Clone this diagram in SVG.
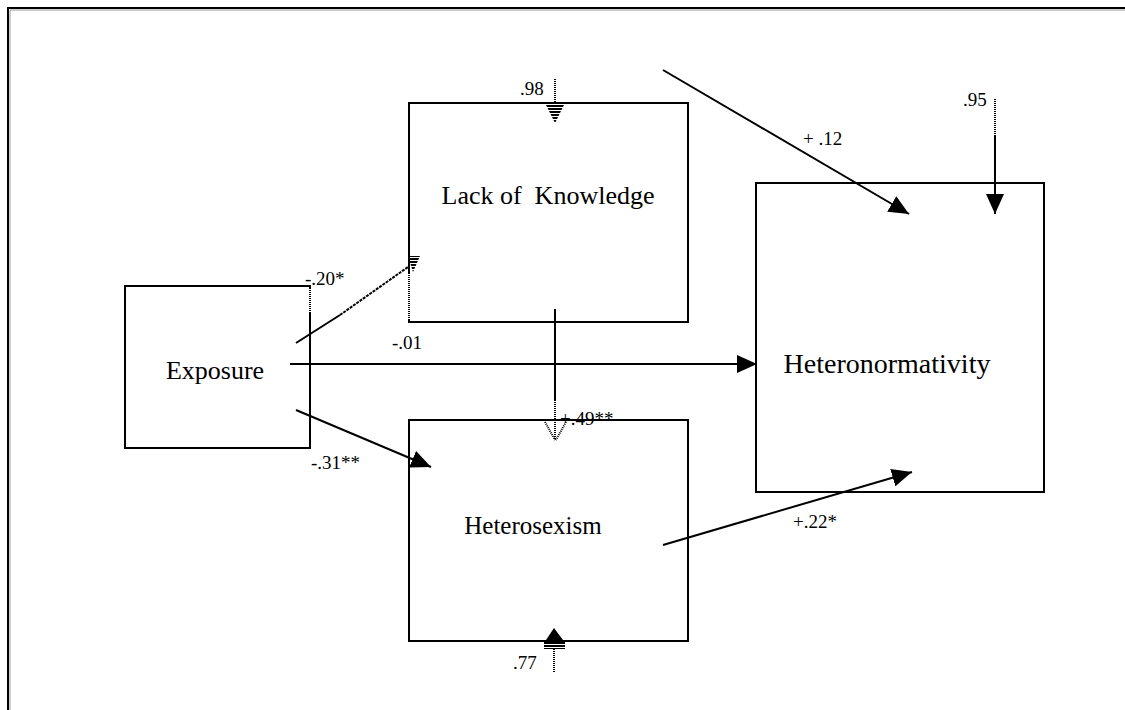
<svg xmlns="http://www.w3.org/2000/svg" width="1125" height="710" viewBox="0 0 1125 710">
<style>
.box{fill:none;stroke:#000;stroke-width:2}
.ln{fill:none;stroke:#000;stroke-width:2}
.dot{fill:none;stroke:#000;stroke-width:2;stroke-dasharray:1 1}
.dash{fill:none;stroke:#000;stroke-width:2;stroke-dasharray:3 1}
.erase{stroke:#fff;stroke-width:3}
.node{font-family:"Liberation Serif","Times New Roman",serif;font-size:26px;fill:#000;text-anchor:middle}
.lbl{font-family:"Liberation Serif","Times New Roman",serif;font-size:19px;fill:#000}
</style>
<defs>
<marker id="ah" viewBox="0 0 20 18" refX="20" refY="9" markerWidth="20" markerHeight="18" markerUnits="userSpaceOnUse" orient="auto">
<path d="M0,0 L20,9 L0,18 z" fill="#000"/>
</marker>
<pattern id="stripes" patternUnits="userSpaceOnUse" width="6" height="3">
<rect x="0" y="0" width="6" height="2" fill="#000"/>
</pattern>
</defs>
<rect width="1125" height="710" fill="#fff"/>
<path d="M8,710 V8 H1125" fill="none" stroke="#000" stroke-width="2"/>
<path d="M10,710 V10 H1125" fill="none" stroke="#999" stroke-width="1"/>

<g id="lack-of-knowledge">
<rect class="box" x="409" y="103" width="279" height="219"/>
<line class="erase" x1="409" y1="273" x2="409" y2="320"/>
<line class="dot" x1="409" y1="273" x2="409" y2="320"/>
<text class="node" x="548" y="204">Lack of&#160; Knowledge</text>
</g>
<g id="exposure">
<rect class="box" x="125" y="286" width="185" height="162"/>
<line class="erase" x1="310" y1="288" x2="310" y2="313"/>
<line class="dot" x1="310" y1="288" x2="310" y2="313"/>
<text class="node" x="215" y="379">Exposure</text>
</g>
<g id="heterosexism">
<rect class="box" x="409" y="420" width="279" height="221"/>
<text class="node" x="533" y="534" style="font-size:25px">Heterosexism</text>
</g>
<g id="heteronormativity">
<rect class="box" x="756" y="183" width="288" height="309"/>
<text class="node" x="887" y="373" style="font-size:28px">Heteronormativity</text>
</g>

<g id="connectors">
<!-- .98 disturbance into Lack of Knowledge -->
<line class="dot" x1="555" y1="79" x2="555" y2="103"/>
<polygon points="545,103 565,103 555,123" fill="url(#stripes)"/>
<!-- Exposure -> Lack of Knowledge -->
<line class="ln" x1="296" y1="343" x2="340" y2="315"/>
<line class="dash" x1="340" y1="315" x2="408" y2="267"/>
<polygon points="408,256 420,256 413,272" fill="url(#stripes)"/>
<!-- Exposure -> Heteronormativity -->
<line class="ln" x1="290" y1="364" x2="757" y2="364" marker-end="url(#ah)"/>
<!-- Exposure -> Heterosexism -->
<line class="ln" x1="296" y1="410" x2="431" y2="467" marker-end="url(#ah)"/>
<!-- Lack of Knowledge -> Heterosexism -->
<line class="ln" x1="555" y1="309" x2="555" y2="400"/>
<line class="dot" x1="555" y1="400" x2="555" y2="440"/>
<line class="dot" x1="545" y1="422" x2="555" y2="440"/>
<line class="dot" x1="566" y1="422" x2="556" y2="440"/>
<!-- Lack of Knowledge -> Heteronormativity (+.12) -->
<line class="ln" x1="663" y1="70" x2="909" y2="214" marker-end="url(#ah)"/>
<!-- .95 disturbance -->
<line class="dot" x1="995" y1="99" x2="995" y2="135"/>
<line class="ln" x1="995" y1="135" x2="995" y2="214" marker-end="url(#ah)"/>
<!-- Heterosexism -> Heteronormativity -->
<line class="ln" x1="663" y1="545" x2="912" y2="472" marker-end="url(#ah)"/>
<!-- .77 disturbance into Heterosexism -->
<line class="dot" x1="554" y1="649" x2="554" y2="672"/>
<polygon points="544,640 565,640 565,649 544,649" fill="url(#stripes)"/>
<polygon points="546,640 563,640 554,628" fill="#000"/>
</g>

<g id="labels">
<text class="lbl" x="520" y="95">.98</text>
<text class="lbl" x="305" y="285">-.20*</text>
<text class="lbl" x="392" y="349">-.01</text>
<text class="lbl" x="311" y="469">-.31**</text>
<text class="lbl" x="560" y="425">+.49**</text>
<text class="lbl" x="803" y="145">+ .12</text>
<text class="lbl" x="963" y="106">.95</text>
<text class="lbl" x="793" y="528">+.22*</text>
<text class="lbl" x="513" y="669">.77</text>
</g>
</svg>
